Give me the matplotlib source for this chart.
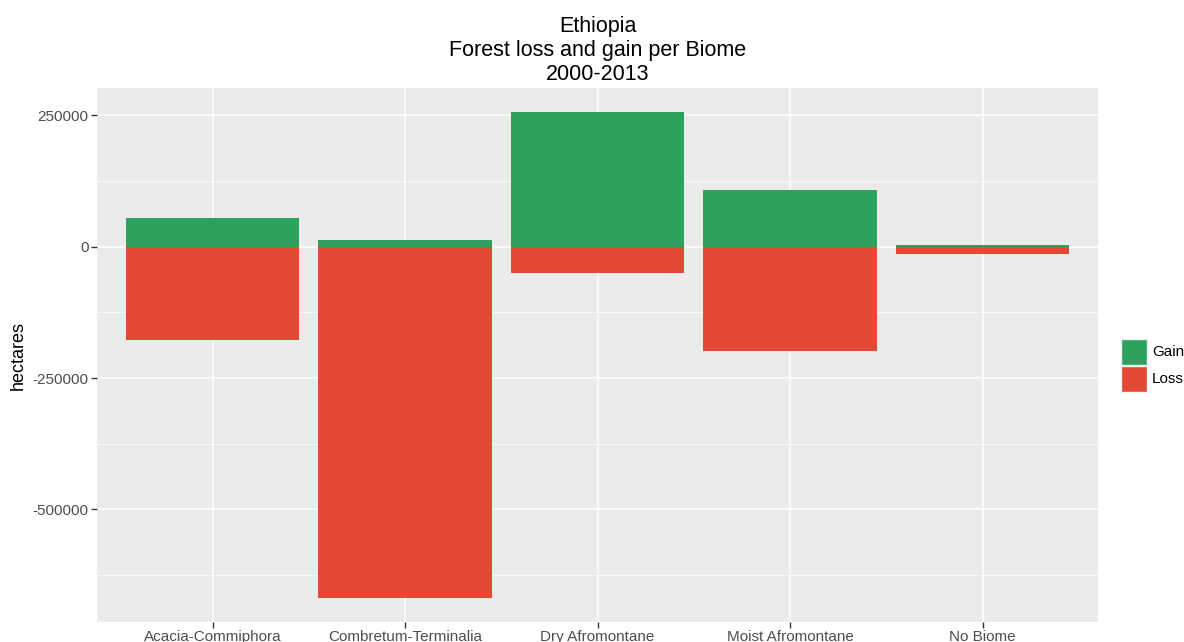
import matplotlib
matplotlib.use('Agg')
import matplotlib.pyplot as plt
from matplotlib.patches import Rectangle

biomes = ['Acacia-Commiphora', 'Combretum-Terminalia', 'Dry Afromontane',
          'Moist Afromontane', 'No Biome']
gain = [54000, 13500, 256000, 109000, 2500]
loss = [-177500, -668000, -49500, -198500, -13500]

GREEN = '#2CA25F'
RED = '#E34A33'
PANEL = '#EBEBEB'
TXT = '#4D4D4D'

W, H = 1184, 642
fig = plt.figure(figsize=(W / 100, H / 100), dpi=100)
plt.rcParams['font.family'] = ['Liberation Sans', 'DejaVu Sans']

# panel position in pixels
px0, px1, py0, py1 = 97, 1098, 88, 622
ax = fig.add_axes([px0 / W, 1 - py1 / H, (px1 - px0) / W, (py1 - py0) / H])
ax.set_facecolor(PANEL)
for s in ax.spines.values():
    s.set_visible(False)

x = list(range(len(biomes)))
ax.bar(x, gain, width=0.9, color=GREEN, zorder=3)
ax.bar(x, loss, width=0.9, color=RED, zorder=3)

lo, hi = min(loss), max(gain)
pad = (hi - lo) * 0.05
ax.set_ylim(lo - pad, hi + pad)
ax.set_xlim(-0.6, len(biomes) - 0.4)

ax.set_yticks([-500000, -250000, 0, 250000])
ax.set_yticklabels(['-500000', '-250000', '0', '250000'])
ax.set_yticks([-625000, -375000, -125000, 125000], minor=True)
ax.set_xticks(x)
ax.set_xticklabels(biomes)
ax.grid(which='major', color='white', lw=1.1, zorder=0)
ax.grid(which='minor', axis='y', color='white', lw=0.55, zorder=0)
ax.set_axisbelow(True)
ax.tick_params(which='major', colors='#333333', length=4, width=1,
               labelsize=11, labelcolor=TXT, pad=2)
ax.tick_params(which='minor', length=0)

ax.set_ylabel('hectares', fontsize=13, color='black', labelpad=4)

ax.set_title('Ethiopia\nForest loss and gain per Biome\n2000-2013',
             fontsize=15.5, color='black', linespacing=1.18, pad=6)

# legend
def fx(v):
    return v / W

def fy(v):
    return 1 - v / H

for i, (lab, col) in enumerate([('Gain', GREEN), ('Loss', RED)]):
    top = 339 + i * 27
    fig.patches.append(Rectangle((fx(1121), fy(top + 26)), fx(26), 26 / H,
                                 facecolor=col, edgecolor='#F2F2F2', lw=1,
                                 transform=fig.transFigure))
    fig.text(fx(1152), fy(top + 13), lab, fontsize=11, color='black',
             va='center', ha='left')

fig.savefig('out.png', dpi=100, facecolor='white')
